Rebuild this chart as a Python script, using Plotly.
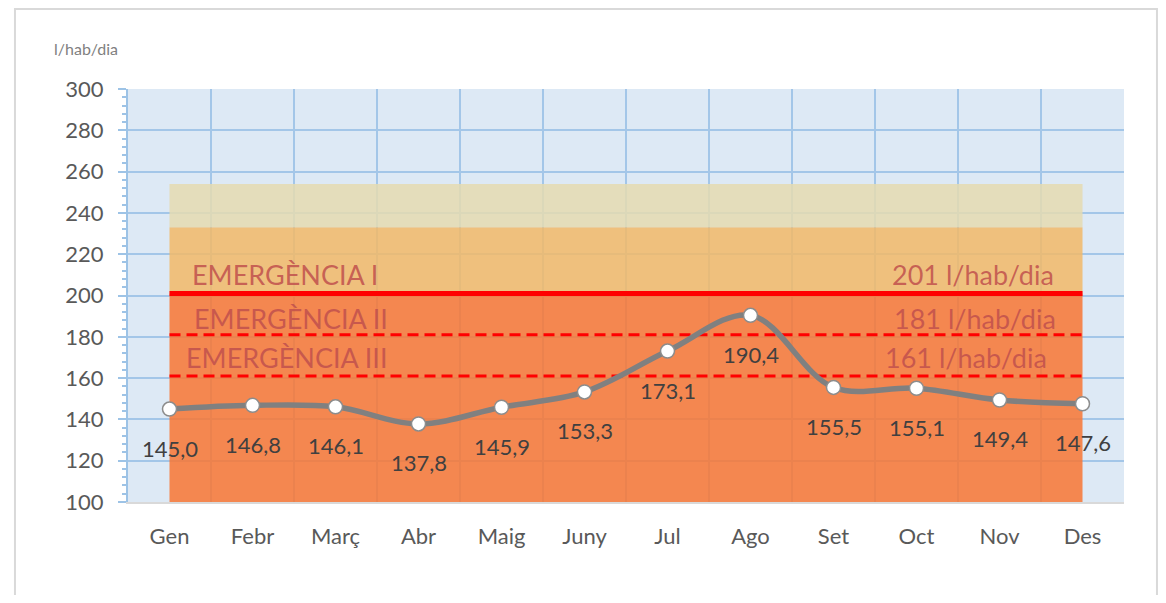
import plotly.graph_objects as go

months = ["Gen", "Febr", "Març", "Abr", "Maig", "Juny", "Jul", "Ago", "Set", "Oct", "Nov", "Des"]
consum = [145.0, 146.8, 146.1, 137.8, 145.9, 153.3, 173.1, 190.4, 155.5, 155.1, 149.4, 147.6]
band_emerg = [201] * 12
band_excep = [233] * 12
band_alerta = [254] * 12
lim_I = 201
lim_II = 181
lim_III = 161
y_ticks = [100, 120, 140, 160, 180, 200, 220, 240, 260, 280, 300]

fig = go.Figure()

fig.add_trace(go.Scatter(x=months, y=band_emerg, mode="lines", line=dict(width=0),
                         fill="tozeroy", fillcolor="rgba(248,118,51,0.85)", hoverinfo="skip", showlegend=False))
fig.add_trace(go.Scatter(x=months, y=band_excep, mode="lines", line=dict(width=0),
                         fill="tonexty", fillcolor="rgba(242,184,103,0.85)", hoverinfo="skip", showlegend=False))
fig.add_trace(go.Scatter(x=months, y=band_alerta, mode="lines", line=dict(width=0),
                         fill="tonexty", fillcolor="rgba(229,219,176,0.85)", hoverinfo="skip", showlegend=False))

fig.add_trace(go.Scatter(x=months, y=[lim_III] * 12, mode="lines",
                         line=dict(color="#FF0000", width=3, dash="11px,6px"), showlegend=False))
fig.add_trace(go.Scatter(x=months, y=[lim_II] * 12, mode="lines",
                         line=dict(color="#FF0000", width=3, dash="11px,6px"), showlegend=False))
fig.add_trace(go.Scatter(x=months, y=[lim_I] * 12, mode="lines",
                         line=dict(color="#FF0000", width=5), showlegend=False))

fig.add_trace(go.Scatter(x=months, y=consum, mode="lines+markers",
                         line=dict(color="#808080", width=5.5, shape="spline", smoothing=1.0),
                         marker=dict(size=14, color="white", line=dict(color="#8C8C8C", width=1.5)),
                         showlegend=False))

for m, v in zip(months, consum):
    fig.add_annotation(x=m, y=v, xref="x", yref="y", text=f"{v:.1f}".replace(".", ","),
                       showarrow=False, yshift=-39, font=dict(size=22, color="#404040", family="Lato"))

lab_font = dict(size=27, color="rgba(192,80,77,0.85)", family="Lato")
fig.add_annotation(x=months[0], y=lim_I + 9, text="EMERGÈNCIA I", showarrow=False,
                   xanchor="left", xshift=20, font=lab_font)
fig.add_annotation(x=months[0], y=lim_II + 8, text="EMERGÈNCIA II", showarrow=False,
                   xanchor="left", xshift=22, font=lab_font)
fig.add_annotation(x=months[0], y=lim_III + 9, text="EMERGÈNCIA III", showarrow=False,
                   xanchor="left", xshift=14, font=lab_font)
fig.add_annotation(x=months[-1], y=lim_I + 9, text=f"{lim_I} l/hab/dia", showarrow=False,
                   xanchor="right", xshift=-27, font=lab_font)
fig.add_annotation(x=months[-1], y=lim_II + 8, text=f"{lim_II} l/hab/dia", showarrow=False,
                   xanchor="right", xshift=-25, font=lab_font)
fig.add_annotation(x=months[-1], y=lim_III + 9, text=f"{lim_III} l/hab/dia", showarrow=False,
                   xanchor="right", xshift=-34, font=lab_font)

fig.add_annotation(x=-0.0763, y=1.099, xref="paper", yref="paper", text="l/hab/dia",
                   showarrow=False, xanchor="left", yanchor="middle",
                   font=dict(size=16, color="#7F7F7F", family="Lato"))

fig.add_shape(type="rect", xref="paper", yref="paper", x0=-0.1135, x1=1.0331, y0=-0.28, y1=1.1937,
              line=dict(color="#D9D9D9", width=2), fillcolor="rgba(0,0,0,0)", layer="below")

fig.update_layout(
    width=1150, height=587, autosize=False,
    margin=dict(l=120, r=34, t=81, b=93),
    paper_bgcolor="white", plot_bgcolor="#DDE9F5",
    font=dict(family="Lato", color="#595959"),
    showlegend=False,
    xaxis=dict(type="category", categoryorder="array", categoryarray=months,
               range=[-0.5, 11.5], tickson="boundaries", showgrid=True,
               gridcolor="#A3C6E8", gridwidth=2, ticks="", ticklabelstandoff=14,
               tickfont=dict(size=22, color="#595959", family="Lato"),
               showline=True, linecolor="#D9D9D9", linewidth=2, zeroline=False),
    yaxis=dict(range=[100, 300], tickvals=y_ticks, showgrid=True, gridcolor="#A3C6E8", gridwidth=2,
               ticks="outside", ticklen=8, tickcolor="#9DC3E6", tickwidth=2,
               minor=dict(dtick=4, ticks="outside", ticklen=4, tickcolor="#9DC3E6", tickwidth=1.5, showgrid=False),
               ticklabelstandoff=10,
               tickfont=dict(size=22, color="#595959", family="Lato"),
               showline=True, linecolor="#9DC3E6", linewidth=2, zeroline=False),
)

fig.write_html("out.html")
